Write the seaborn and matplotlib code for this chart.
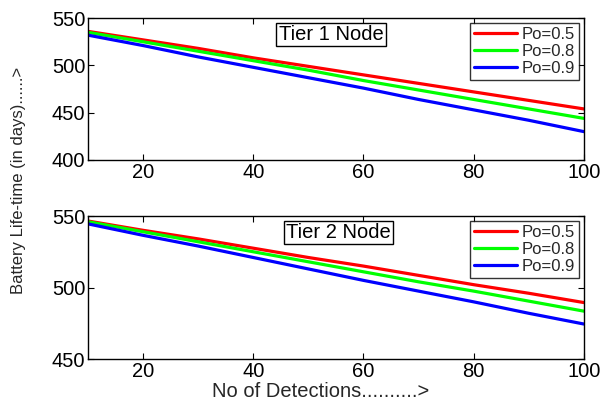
import numpy as np
import pandas as pd
import matplotlib
matplotlib.use("Agg")
import matplotlib.pyplot as plt
import seaborn as sns

detections = [10, 20, 30, 40, 50, 60, 70, 80, 90, 100]
po_labels = ["Po=0.5", "Po=0.8", "Po=0.9"]

# Tier 1 node battery life-time (days)
tier1_po05 = [536, 527, 518, 508, 499, 490, 481, 472, 463, 454]
tier1_po08 = [535, 525, 515, 505, 495, 484, 474, 464, 454, 444]
tier1_po09 = [532, 521, 509, 498, 487, 476, 464, 453, 442, 430]

# Tier 2 node battery life-time (days)
tier2_po05 = [546.5, 540, 534, 527.5, 521, 515, 508.5, 502, 496, 489.5]
tier2_po08 = [546, 539, 532, 525, 518, 511, 504, 497.5, 490.5, 483.5]
tier2_po09 = [544.5, 536.5, 529, 521, 513, 505, 497.5, 490, 482, 474.5]

line_colors = ["#ff0000", "#00ff00", "#0000ff"]


def make_frame(series):
    rows = []
    for label, vals in zip(po_labels, series):
        for x, v in zip(detections, vals):
            rows.append({"detections": x, "life": v, "po": label})
    return pd.DataFrame(rows)


df1 = make_frame([tier1_po05, tier1_po08, tier1_po09])
df2 = make_frame([tier2_po05, tier2_po08, tier2_po09])

sns.set_theme(style="ticks")
plt.rcParams["font.family"] = ["Liberation Sans", "DejaVu Sans"]

fig = plt.figure(figsize=(6.04, 4.03), dpi=100)
ax1 = fig.add_axes([0.1457, 0.603, 0.821, 0.352])
ax2 = fig.add_axes([0.1457, 0.109, 0.821, 0.355])

panels = [
    (ax1, df1, (400, 550), [400, 450, 500, 550], "Tier 1 Node", (0.49, 0.885)),
    (ax2, df2, (450, 550), [450, 500, 550], "Tier 2 Node", (0.505, 0.885)),
]

for ax, df, ylim, yticks, title, tpos in panels:
    sns.lineplot(data=df, x="detections", y="life", hue="po", palette=line_colors,
                 linewidth=2.3, ax=ax)
    ax.set_xlim(10, 100)
    ax.set_ylim(*ylim)
    ax.set_xticks([20, 40, 60, 80, 100])
    ax.set_yticks(yticks)
    ax.set_xlabel("")
    ax.set_ylabel("")
    ax.tick_params(axis="both", which="both", direction="in", length=4, width=0.8,
                   top=True, right=True, labelsize=14.5, pad=2, colors="black")
    for sp in ax.spines.values():
        sp.set_visible(True)
        sp.set_linewidth(1.0)
        sp.set_color("black")
    ax.text(tpos[0], tpos[1], title, transform=ax.transAxes, ha="center", va="center",
            fontsize=14.5, color="black",
            bbox=dict(boxstyle="square,pad=0.12", facecolor="white", edgecolor="black", linewidth=1.0))
    leg = ax.legend(loc="upper right", fontsize=12, frameon=True, fancybox=False,
                    handlelength=2.6, handletextpad=0.25, borderpad=0.25, labelspacing=0.1,
                    borderaxespad=0.3)
    leg.get_frame().set_edgecolor("black")
    leg.get_frame().set_linewidth(1.0)
    for h in leg.get_lines():
        h.set_linewidth(2.3)

fig.text(0.03, 0.553, "Battery Life-time (in days)......>", rotation=90,
         ha="center", va="center", fontsize=12)
fig.text(0.531, 0.028, "No of Detections..........>", ha="center", va="center", fontsize=14.5)

fig.savefig("out.png", dpi=100)
